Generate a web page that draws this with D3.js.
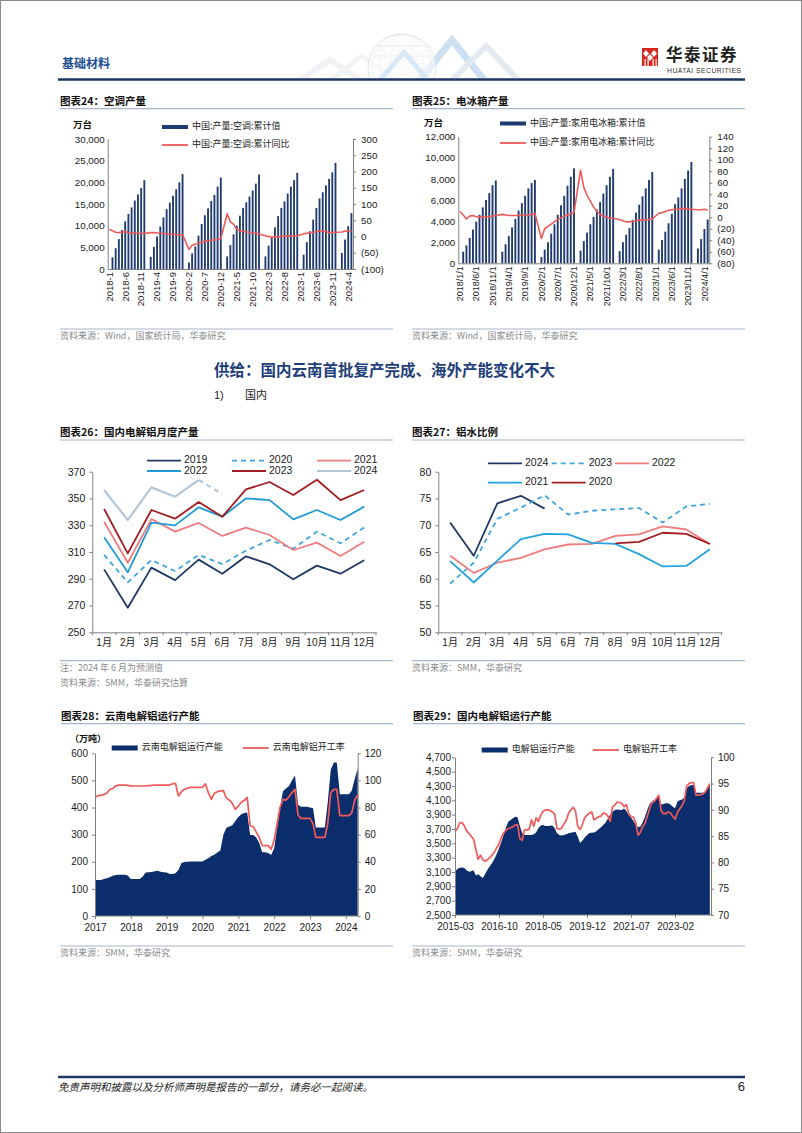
<!DOCTYPE html>
<html><head><meta charset="utf-8">
<script src="https://cdn.jsdelivr.net/npm/d3@7"></script>
<style>body{margin:0;background:#fff}svg{display:block}</style>
</head><body>
<svg id="page" width="802" height="1133"></svg>
<script>
// ================= DATA =================
// Chart 24: air conditioner output (cumulative, 10k units, Feb..Dec) and cumulative YoY (%)
const acYears = [2018, 2019, 2020, 2021, 2022, 2023, 2024];
const acCum = [
  [2700, 4800, 6900, 9000, 11000, 12700, 14200, 15800, 17200, 18700, 20500],
  [2800, 5100, 7500, 9800, 11900, 13800, 15300, 16900, 18400, 20000, 21900],
  [1500, 3600, 5200, 7700, 10400, 12400, 14000, 15700, 17100, 19000, 21100],
  [2900, 5500, 8000, 10000, 12300, 14100, 15400, 16700, 18100, 19700, 21800],
  [2900, 5400, 7400, 9600, 12200, 14100, 15600, 17400, 19000, 20500, 22200],
  [3300, 6200, 8700, 11400, 14100, 16300, 17700, 19300, 20800, 22300, 24500],
  [3700, 6800, 9900, 12900]
];
const acYoY = [
  [22, 18, 13, 12, 14, 15, 12, 11, 11, 11, 10, 9],
  [null, 12, 12, 11, 10, 9, 8, 7, 7, 6, 5, 6],
  [null, -40, -27, -24, -21, -17, -15, -13, -12, -10, -9, -7],
  [null, 70, 45, 38, 22, 18, 16, 14, 13, 11, 10, 8],
  [null, 2, 0, -2, -2, -1, 0, 1, 2, 1, 1, 2],
  [null, 8, 10, 12, 13, 15, 17, 17, 15, 12, 12, 13],
  [null, 14, 17, 16, 16]
];
// Chart 25: household refrigerator output
const frYears = [2018, 2019, 2020, 2021, 2022, 2023, 2024];
const frCum = [
  [1100, 1700, 2400, 3200, 3950, 4600, 5300, 6000, 6650, 7400, 7850],
  [1100, 1800, 2600, 3400, 4200, 5000, 5700, 6400, 7100, 7600, 7900],
  [600, 1300, 2000, 2800, 3700, 4600, 5500, 6400, 7350, 8200, 9000],
  [1200, 2100, 2900, 3700, 4400, 5100, 5800, 6600, 7400, 8200, 8950],
  [1150, 2000, 2700, 3350, 4100, 4800, 5550, 6350, 7100, 7900, 8650],
  [1300, 2200, 3000, 3800, 4700, 5600, 6250, 7100, 8000, 8800, 9600],
  [1400, 2300, 3250, 4150]
];
const frYoY = [
  [10, 4, -3, 2, 3, 1, 1, 0, 1, 1, 2, 3],
  [null, 5, 4, 3, 3, 3, 3, 4, 4, 4, 5, 7],
  [null, -37, -20, -16, -12, -8, -4, -1, 2, 4, 6, 8],
  [null, 82, 52, 38, 28, 18, 10, 5, 2, 0, -1, -2],
  [null, -4, -6, -8, -8, -7, -6, -5, -5, -4, -4, -3],
  [null, 7, 8, 10, 12, 13, 14, 14, 15, 15, 14, 14],
  [null, 13, 13, 14, 12]
];
// Chart 26: monthly electrolytic aluminium output
const monthLabels = ['1月','2月','3月','4月','5月','6月','7月','8月','9月','10月','11月','12月'];
const al2019 = [297, 268.4, 298.3, 289, 304.3, 293.8, 306.8, 300.8, 289.6, 299.8, 293.8, 303.8];
const al2020 = [307.8, 287.3, 304, 295.8, 307.8, 301, 311, 319, 312.5, 325.2, 316.5, 328.4];
const al2021 = [332.6, 302, 334.6, 325.2, 331.7, 322, 328.2, 322.7, 311.5, 317, 307, 317.7];
const al2022 = [321, 294.8, 331.9, 329.9, 343.4, 336.4, 350, 348.8, 334.4, 341.4, 333.9, 343.9];
const al2023 = [342.1, 309, 341.4, 334.9, 347.3, 336.4, 356.8, 362.3, 352.6, 364, 348.8, 356.3];
const al2024 = [356.3, 333.9, 358.3, 351.3, 363.8, 353.3];
// Chart 27: molten aluminium ratio
const wr2024 = [70.5, 64.3, 74.1, 75.5, 73.1];
const wr2023 = [59.1, 63, 71.2, 73.3, 75.6, 72, 72.7, 73, 73.2, 70.5, 73.5, 74];
const wr2022 = [64.3, 61.1, 63, 63.9, 65.5, 66.4, 66.5, 68, 68.3, 69.8, 69.2, 66.5];
const wr2021 = [63.3, 59.3, 63.4, 67.4, 68.4, 68.3, 66.7, 66.5, 64.6, 62.3, 62.4, 65.5];
const wr2020 = [null, null, null, null, null, null, null, 66.6, 66.9, 68.6, 68.4, 66.5];
// Chart 28: Yunnan operating capacity (monthly from 2017-01) and operating rate
const ynYears = [2017, 2018, 2019, 2020, 2021, 2022, 2023, 2024];
const ynCap = [
  133,133,133,136,139,143,148,151,152,152,152,149,
  136,136,136,136,145,160,161,162,165,167,163,161,
  160,155,155,158,170,195,199,200,201,201,201,201,
  201,207,213,221,226,234,242,300,325,330,335,350,
  365,375,380,382,299,299,290,270,235,235,232,225,
  250,330,400,460,470,479,500,518,410,403,403,403,
  400,397,326,326,326,326,420,540,566,566,449,449,
  449,449,462,505,545
];
const ynRate = [
  87.5,88.8,89,89.5,90.5,93.3,94,96,96.5,96.6,96.5,96.3,
  96,95.9,95.9,95.9,95.9,96,96.2,96.4,96.6,96.6,96.6,96.6,
  96.6,96.6,97.5,97.9,88.5,91.7,93.5,94.2,94.9,94.9,94.9,94.9,
  95,97.4,91,86,90.5,91.7,92.3,92.5,87,85.5,83.1,78.7,
  81,84,85.1,87.5,66.4,66,62,58,52,51.9,51.9,49.2,
  56,68.4,80,86,85.5,88,91,93.4,74.5,72,72,72,
  72,68,58,58,58,58,68.4,91,93.4,93.4,74,74,
  74,74,76,85.6,89.3
];
// Chart 29: national operating capacity (monthly from 2015-03) and operating rate
const cnLabels = ['2015-03', '2016-10', '2018-05', '2019-12', '2021-07', '2023-02'];
const cnCap = [
  3105,3140,3160,3163,3155,3125,3105,3112,3125,3050,
  3070,3040,3015,3072,3130,3180,3225,3280,3350,3430,
  3520,3620,3720,3802,3825,3850,3872,3863,3742,3640,
  3616,3616,3616,3616,3625,3650,3709,3750,3756,3742,
  3742,3745,3750,3715,3645,3616,3610,3616,3625,3640,
  3649,3655,3663,3590,3505,3540,3580,3616,3645,3649,
  3652,3670,3695,3725,3755,3790,3845,3900,3940,3965,
  3972,3970,3965,3985,3950,3890,3860,3810,3760,3725,
  3735,3790,3872,3970,4050,4085,4100,4125,4150,4040,
  4050,4058,4058,4040,4010,3990,4080,4100,4110,4140,
  4267,4300,4314,4314,4207,4207,4207,4207,4215,4260,4320
];
const cnRate = [
  85.9,86.4,87.5,87.6,87,86,85.5,85,84.4,82.5,
  80.6,81.4,80.5,80.2,80.5,80.9,81.4,82,82.8,83.5,
  84.7,85.6,86.1,86.5,86.6,86.8,87.1,87.2,84.5,84.2,
  86.2,86.2,86.3,88.1,86.9,88.5,87.8,89,89.7,90,
  90,89.9,89.6,89.2,86.5,86.3,86.5,87.3,88,89.3,
  90,90.5,89.8,86.8,86.3,87.2,88.5,89,89.4,89.6,
  88.1,88.4,88.7,88.8,89.4,89.3,88.8,87.8,90.6,90.9,
  91.5,91.4,91.2,90.6,91,89.2,88.8,88.6,87.6,85.2,
  85.7,86.8,87.4,88.8,90.2,91.4,91.6,92.2,92.8,89.8,
  89.3,89.3,89.6,89.4,88.8,88.2,89.5,90.2,90.8,91.8,
  94.5,95,95.2,95.2,92.8,92.8,92.9,93,93.4,94.2,95
];

// ================= STYLE =================
const NUM = '"Liberation Sans", Arial, "Noto Sans CJK SC", sans-serif';
const CJK = '"Noto Sans CJK SC", "Liberation Sans", sans-serif';
const NAVY = '#1f3a6e', AREA = '#0c2d6b', RED = '#ef5a5a', AX = '#808080', RULE = '#a7b6ca';
const svg = d3.select('#page');

function txt(g, x, y, s, o = {}) {
  return g.append('text').attr('x', x).attr('y', y).text(s)
    .attr('font-family', o.font || CJK).attr('font-size', o.size || 10)
    .attr('font-weight', o.weight || 'normal').attr('fill', o.fill || '#111')
    .attr('text-anchor', o.anchor || 'start').attr('dominant-baseline', o.base || 'middle')
    .attr('font-style', o.style || 'normal');
}
function hline(g, x1, x2, y, color, w) {
  g.append('line').attr('x1', x1).attr('x2', x2).attr('y1', y).attr('y2', y).attr('stroke', color).attr('stroke-width', w);
}
function styleAxis(sel, fs) {
  sel.select('.domain').attr('stroke', AX).attr('stroke-width', 1);
  sel.selectAll('.tick line').attr('stroke', AX);
  sel.selectAll('text').attr('font-family', NUM).attr('font-size', fs).attr('fill', '#1a1a1a');
}
function title(x, y, x2, s) {
  txt(svg, x, y, s, {size: 10.5, weight: 'bold', fill: '#111'});
  hline(svg, x, x2, y + 7, RULE, 1.2);
}
function source(x, x2, yLine, lines) {
  hline(svg, x, x2, yLine, RULE, 1.2);
  lines.forEach((s, i) => txt(svg, x, yLine + 8 + i * 14.5, s, {size: 9, fill: '#8a8a8a'}));
}
const parenFmt = v => v < 0 ? '(' + (-v) + ')' : String(v);

// ================= PAGE FRAME / HEADER =================
svg.append('rect').attr('x', 0.5).attr('y', 0.5).attr('width', 801).attr('height', 1132)
  .attr('fill', '#fff').attr('stroke', '#8c8c8c');

// decorative header graphic
const defs = svg.append('defs');
defs.append('clipPath').attr('id', 'hdrclip').append('rect').attr('x', 280).attr('y', 28).attr('width', 250).attr('height', 50);
const deco = svg.append('g').attr('clip-path', 'url(#hdrclip)').attr('opacity', 0.5);
[[300, 80, 330, 60, 360, 80, '#e3e6ec', 6], [330, 80, 362, 56, 394, 80, '#e8ebef', 5],
 [420, 80, 452, 40, 484, 80, '#9cc2e6', 7], [452, 80, 486, 46, 518, 80, '#cdd7e3', 6]].forEach(p => {
  deco.append('polyline').attr('points', `${p[0]},${p[1]} ${p[2]},${p[3]} ${p[4]},${p[5]}`)
    .attr('fill', 'none').attr('stroke', p[6]).attr('stroke-width', p[7]);
});
deco.append('circle').attr('cx', 402).attr('cy', 68).attr('r', 34).attr('fill', '#f7f8fa').attr('fill-opacity', 0.6).attr('stroke', '#b8c1cc').attr('stroke-width', 0.8);
[12, 22, 30].forEach(rx => deco.append('ellipse').attr('cx', 402).attr('cy', 68).attr('rx', rx).attr('ry', 34).attr('fill', 'none').attr('stroke', '#c6cdd6').attr('stroke-width', 0.6).attr('stroke-dasharray', '2,1.5'));
[46, 56].forEach(yy => hline(deco, 372, 432, yy, '#c6cdd6', 0.6));
deco.append('polyline').attr('points', '380,80 404,52 428,80').attr('fill', 'none').attr('stroke', '#b5d3ee').attr('stroke-width', 5);

txt(svg, 62, 65, '基础材料', {size: 12, weight: 'bold', fill: '#1d4f91'});
hline(svg, 58, 745, 79.5, '#1c3565', 2.5);
// logo
const logo = svg.append('g');
logo.append('rect').attr('x', 642).attr('y', 48).attr('width', 16).attr('height', 18).attr('fill', '#d8261f');
logo.append('path').attr('d', 'M646,50 L649,53.5 L646,57 L643,53.5 Z M654,50 L657,53.5 L654,57 L651,53.5 Z M650,54 L653,57.5 L650,61 L647,57.5 Z').attr('fill', '#fff');
[644.5, 647.5, 652.5, 655.5].forEach(xx => logo.append('rect').attr('x', xx).attr('y', 59).attr('width', 1.2).attr('height', 7).attr('fill', '#fff'));
txt(svg, 666, 56.5, '华泰证券', {size: 16.5, weight: 'bold', fill: '#222'}).attr('letter-spacing', 1.5);
txt(svg, 667, 71.5, 'HUATAI SECURITIES', {font: NUM, size: 6.8, fill: '#333'}).attr('textLength', 74);

// ================= DUAL (BAR + LINE) CHARTS =================
function dualChart(o) {
  const g = svg.append('g');
  const months = [];
  o.years.forEach((y, i) => { const last = i === o.years.length - 1 ? o.cum[i].length + 1 : 12; for (let m = 1; m <= last; m++) months.push(y + '-' + m); });
  const x = d3.scaleBand().domain(months).range([o.x0, o.x1]).paddingInner(0.42).paddingOuter(0.21);
  const yL = d3.scaleLinear().domain(o.lDom).range([o.yb, o.yt]);
  const yR = d3.scaleLinear().domain(o.rDom).range([o.yb, o.yt]);
  const bars = o.years.flatMap((y, i) => o.cum[i].map((v, j) => ({k: y + '-' + (j + 2), v})));
  const line = o.years.flatMap((y, i) => o.yoy[i].map((v, j) => ({k: y + '-' + (j + 1), v}))).filter(d => d.v != null);
  g.selectAll('rect.bar').data(bars).join('rect').attr('class', 'bar')
    .attr('x', d => x(d.k)).attr('width', x.bandwidth()).attr('y', d => yL(d.v)).attr('height', d => yL(0) - yL(d.v)).attr('fill', NAVY);
  const cx = d => x(d.k) + x.bandwidth() / 2;
  g.append('path').datum(line).attr('d', d3.line().x(cx).y(d => yR(d.v)))
    .attr('fill', 'none').attr('stroke', RED).attr('stroke-width', 1.6).attr('stroke-linejoin', 'round');
  const aL = g.append('g').attr('transform', `translate(${o.x0},0)`)
    .call(d3.axisLeft(yL).tickValues(d3.range(o.lDom[0], o.lDom[1] + 1, o.lStep)).tickFormat(d3.format(',')).tickSizeInner(0).tickSizeOuter(0).tickPadding(3));
  styleAxis(aL, 9.8);
  const aR = g.append('g').attr('transform', `translate(${o.x1},0)`)
    .call(d3.axisRight(yR).tickValues(d3.range(o.rDom[0], o.rDom[1] + 1, o.rStep)).tickFormat(parenFmt).tickSizeInner(3).tickSizeOuter(0).tickPadding(5));
  styleAxis(aR, 9.8);
  const aB = g.append('g').attr('transform', `translate(0,${o.yb})`)
    .call(d3.axisBottom(x).tickValues(months.filter((d, i) => i % 5 === 0)).tickFormat(o.xFmt).tickSizeInner(0).tickSizeOuter(0));
  styleAxis(aB, o.xfs);
  aB.selectAll('text').attr('transform', 'rotate(-90)').attr('text-anchor', 'end').attr('x', -3).attr('y', 0).attr('dy', '0.35em');
  // unit + legend
  txt(g, o.unitX, o.unitY, '万台', {size: 9.5, weight: 'bold'});
  g.append('rect').attr('x', o.legX).attr('y', o.legY1 - 2).attr('width', 26).attr('height', 4).attr('fill', NAVY);
  txt(g, o.legX + 30, o.legY1, o.leg1, {size: 9, fill: '#222'});
  hline(g, o.legX, o.legX + 26, o.legY2, RED, 1.8);
  txt(g, o.legX + 30, o.legY2, o.leg2, {size: 9, fill: '#222'});
}

title(60, 101.7, 393, '图表24：空调产量');
dualChart({x0: 107.7, x1: 353, yt: 139, yb: 269, lDom: [0, 30000], lStep: 5000, rDom: [-100, 300], rStep: 50,
  years: acYears, cum: acCum, yoy: acYoY, xFmt: k => k, xfs: 9.5,
  unitX: 73, unitY: 125, legX: 162, legY1: 127, legY2: 145,
  leg1: '中国:产量:空调:累计值', leg2: '中国:产量:空调:累计同比'});
source(60, 393, 329, ['资料来源：Wind，国家统计局，华泰研究']);

title(412, 101.7, 745, '图表25：电冰箱产量');
dualChart({x0: 458.3, x1: 709.3, yt: 136.7, yb: 263.3, lDom: [0, 12000], lStep: 2000, rDom: [-80, 140], rStep: 20,
  years: frYears, cum: frCum, yoy: frYoY, xFmt: k => k.replace('-', '/') + '/1', xfs: 9,
  unitX: 424, unitY: 123, legX: 500, legY1: 123.5, legY2: 143,
  leg1: '中国:产量:家用电冰箱:累计值', leg2: '中国:产量:家用电冰箱:累计同比'});
source(412, 745, 329, ['资料来源：Wind，国家统计局，华泰研究']);

// ================= SECTION HEADING =================
txt(svg, 214, 372, '供给：国内云南首批复产完成、海外产能变化不大', {size: 15.5, weight: 'bold', fill: '#1f3f7a'});
txt(svg, 214, 396.5, '1)', {font: NUM, size: 11, fill: '#222'});
txt(svg, 245, 396.5, '国内', {size: 11, fill: '#222'});

// ================= LINE CHARTS =================
function lineChart(o) {
  const g = svg.append('g');
  const x = d3.scaleBand().domain(monthLabels).range([o.x0, o.x1]);
  const y = d3.scaleLinear().domain(o.dom).range([o.yb, o.yt]);
  const cx = i => x(monthLabels[i]) + x.bandwidth() / 2;
  const aL = g.append('g').attr('transform', `translate(${o.x0},0)`)
    .call(d3.axisLeft(y).tickValues(d3.range(o.dom[0], o.dom[1] + 1, o.step)).tickSizeInner(3).tickSizeOuter(0).tickPadding(4));
  styleAxis(aL, 10.5);
  const aB = g.append('g').attr('transform', `translate(0,${o.yb})`)
    .call(d3.axisBottom(x).tickSizeInner(0).tickSizeOuter(0).tickPadding(7));
  styleAxis(aB, 10);
  monthLabels.concat(['end']).forEach((m, i) => {
    const xx = i < 12 ? x(m) : o.x1;
    g.append('line').attr('x1', xx).attr('x2', xx).attr('y1', o.yb).attr('y2', o.yb + 3).attr('stroke', AX);
  });
  const mk = d3.line().defined(d => d.v != null).x(d => cx(d.i)).y(d => y(d.v));
  o.series.forEach(s => {
    const pts = s.vals.map((v, i) => ({i, v}));
    const solid = s.solidTo != null ? pts.slice(0, s.solidTo + 1) : pts;
    g.append('path').datum(solid).attr('d', mk).attr('fill', 'none').attr('stroke', s.color)
      .attr('stroke-width', s.w || 1.8).attr('stroke-dasharray', s.dash ? '5,4' : null).attr('stroke-linejoin', 'round');
    if (s.solidTo != null) {
      g.append('path').datum(pts.slice(s.solidTo)).attr('d', mk).attr('fill', 'none').attr('stroke', s.color)
        .attr('stroke-width', s.w || 1.8).attr('stroke-dasharray', '5,4');
    }
    g.append('line').attr('x1', s.lx).attr('x2', s.lx + 34).attr('y1', s.ly).attr('y2', s.ly).attr('stroke', s.color)
      .attr('stroke-width', s.w || 1.8).attr('stroke-dasharray', s.dash ? '5,4' : null);
    txt(g, s.lx + 37, s.ly, s.name, {font: NUM, size: 10.5, fill: '#1a1a1a'});
  });
}

title(60, 433, 393, '图表26：国内电解铝月度产量');
lineChart({x0: 92.3, x1: 376, yt: 471.7, yb: 632.3, dom: [250, 370], step: 20, series: [
  {name: '2019', vals: al2019, color: '#1f3864', lx: 147, ly: 460.7},
  {name: '2020', vals: al2020, color: '#3ea6dc', dash: true, lx: 232, ly: 460.7},
  {name: '2021', vals: al2021, color: '#ee7c7e', lx: 317, ly: 460.7},
  {name: '2022', vals: al2022, color: '#1f9ad6', lx: 147, ly: 471},
  {name: '2023', vals: al2023, color: '#a11d21', lx: 232, ly: 471},
  {name: '2024', vals: al2024, color: '#b6c8d8', lx: 317, ly: 471, solidTo: 4, w: 2.2}
]});
source(60, 393, 660.7, ['注：2024 年 6 月为预测值', '资料来源：SMM，华泰研究估算']);

title(412, 433, 745, '图表27：铝水比例');
lineChart({x0: 438.3, x1: 721.7, yt: 471.7, yb: 632.3, dom: [50, 80], step: 5, series: [
  {name: '2024', vals: wr2024, color: '#1f3864', lx: 488, ly: 463.3},
  {name: '2023', vals: wr2023, color: '#3ea6dc', dash: true, lx: 551.7, ly: 463.3},
  {name: '2022', vals: wr2022, color: '#f07c7c', lx: 615, ly: 463.3},
  {name: '2021', vals: wr2021, color: '#22a3df', lx: 488, ly: 482.7},
  {name: '2020', vals: wr2020, color: '#a11d21', lx: 551.7, ly: 482.7}
]});
source(412, 745, 660.7, ['资料来源：SMM，华泰研究']);

// ================= AREA + LINE CHARTS =================
function areaChart(o) {
  const g = svg.append('g');
  const yL = d3.scaleLinear().domain(o.lDom).range([o.yb, o.yt]);
  const yR = d3.scaleLinear().domain(o.rDom).range([o.yb, o.yt]);
  const capPts = o.cap.map((v, i) => ({x: o.xOf(i), v}));
  const ratePts = o.rate.map((v, i) => ({x: o.xOf(i), v}));
  g.append('path').datum(capPts).attr('d', d3.area().x(d => d.x).y0(yL(o.lDom[0])).y1(d => yL(d.v))).attr('fill', AREA);
  g.append('path').datum(ratePts).attr('d', d3.line().x(d => d.x).y(d => yR(d.v)))
    .attr('fill', 'none').attr('stroke', RED).attr('stroke-width', 1.7).attr('stroke-linejoin', 'round');
  const aL = g.append('g').attr('transform', `translate(${o.x0},0)`)
    .call(d3.axisLeft(yL).tickValues(d3.range(o.lDom[0], o.lDom[1] + 1, o.lStep)).tickFormat(o.lFmt).tickSizeInner(3).tickSizeOuter(0).tickPadding(o.lPad));
  styleAxis(aL, o.fs);
  const aR = g.append('g').attr('transform', `translate(${o.x1},0)`)
    .call(d3.axisRight(yR).tickValues(d3.range(o.rDom[0], o.rDom[1] + 1, o.rStep)).tickSizeInner(3).tickSizeOuter(0).tickPadding(4));
  styleAxis(aR, o.fs);
  const aB = g.append('g').attr('transform', `translate(0,${o.yb})`).call(o.xAxis);
  styleAxis(aB, o.fs);
  aB.select('.domain').attr('d', `M${o.x0},0H${o.x1}`);
  // legend
  g.append('rect').attr('x', o.legX1).attr('y', o.legY - 2.5).attr('width', 26).attr('height', 5).attr('fill', AREA);
  txt(g, o.legX1 + 30, o.legY, o.leg1, {size: 9, fill: '#222'});
  hline(g, o.legX2, o.legX2 + 26, o.legY, RED, 1.8);
  txt(g, o.legX2 + 30, o.legY, o.leg2, {size: 9, fill: '#222'});
}

title(61, 716.7, 393, '图表28：云南电解铝运行产能');
{
  const xT = d3.scaleTime().domain([new Date(2017, 0, 1), new Date(2024, 4, 1)]).range([95, 357.7]);
  areaChart({x0: 95, x1: 357.7, yt: 753.3, yb: 916, lDom: [0, 600], lStep: 100, lFmt: d3.format('d'), lPad: 4,
    rDom: [0, 120], rStep: 20, fs: 10, cap: ynCap, rate: ynRate, xOf: i => xT(new Date(2017, i, 1)),
    xAxis: d3.axisBottom(xT).tickValues(ynYears.map(y => new Date(y, 0, 1))).tickFormat(d3.timeFormat('%Y')).tickSizeInner(3).tickSizeOuter(0).tickPadding(5),
    legX1: 111.7, legX2: 242.7, legY: 748, leg1: '云南电解铝运行产能', leg2: '云南电解铝开工率'});
  txt(svg, 70, 740, '（万吨）', {size: 9, weight: 'bold'});
}
source(60, 393, 946, ['资料来源：SMM，华泰研究']);

title(413, 716.7, 745, '图表29：国内电解铝运行产能');
{
  const xI = d3.scaleLinear().domain([0, 110.5]).range([455, 711]);
  areaChart({x0: 455, x1: 711, yt: 757.3, yb: 915, lDom: [2500, 4700], lStep: 200, lFmt: d3.format(','), lPad: 1,
    rDom: [70, 100], rStep: 5, fs: 10, cap: cnCap, rate: cnRate, xOf: i => xI(i),
    xAxis: d3.axisBottom(xI).tickValues(cnLabels.map((d, i) => i * 19)).tickFormat((d, i) => cnLabels[i]).tickSizeInner(3).tickSizeOuter(0).tickPadding(5),
    legX1: 481.7, legX2: 593, legY: 750, leg1: '电解铝运行产能', leg2: '电解铝开工率'});
}
source(412, 745, 946, ['资料来源：SMM，华泰研究']);

// ================= FOOTER =================
hline(svg, 58, 745, 1077, '#1c3565', 2.5);
txt(svg, 58, 1088, '免责声明和披露以及分析师声明是报告的一部分，请务必一起阅读。', {size: 10.5, style: 'italic', fill: '#222'});
txt(svg, 745, 1088, '6', {font: NUM, size: 13, anchor: 'end', fill: '#222'});
</script>
</body></html>
